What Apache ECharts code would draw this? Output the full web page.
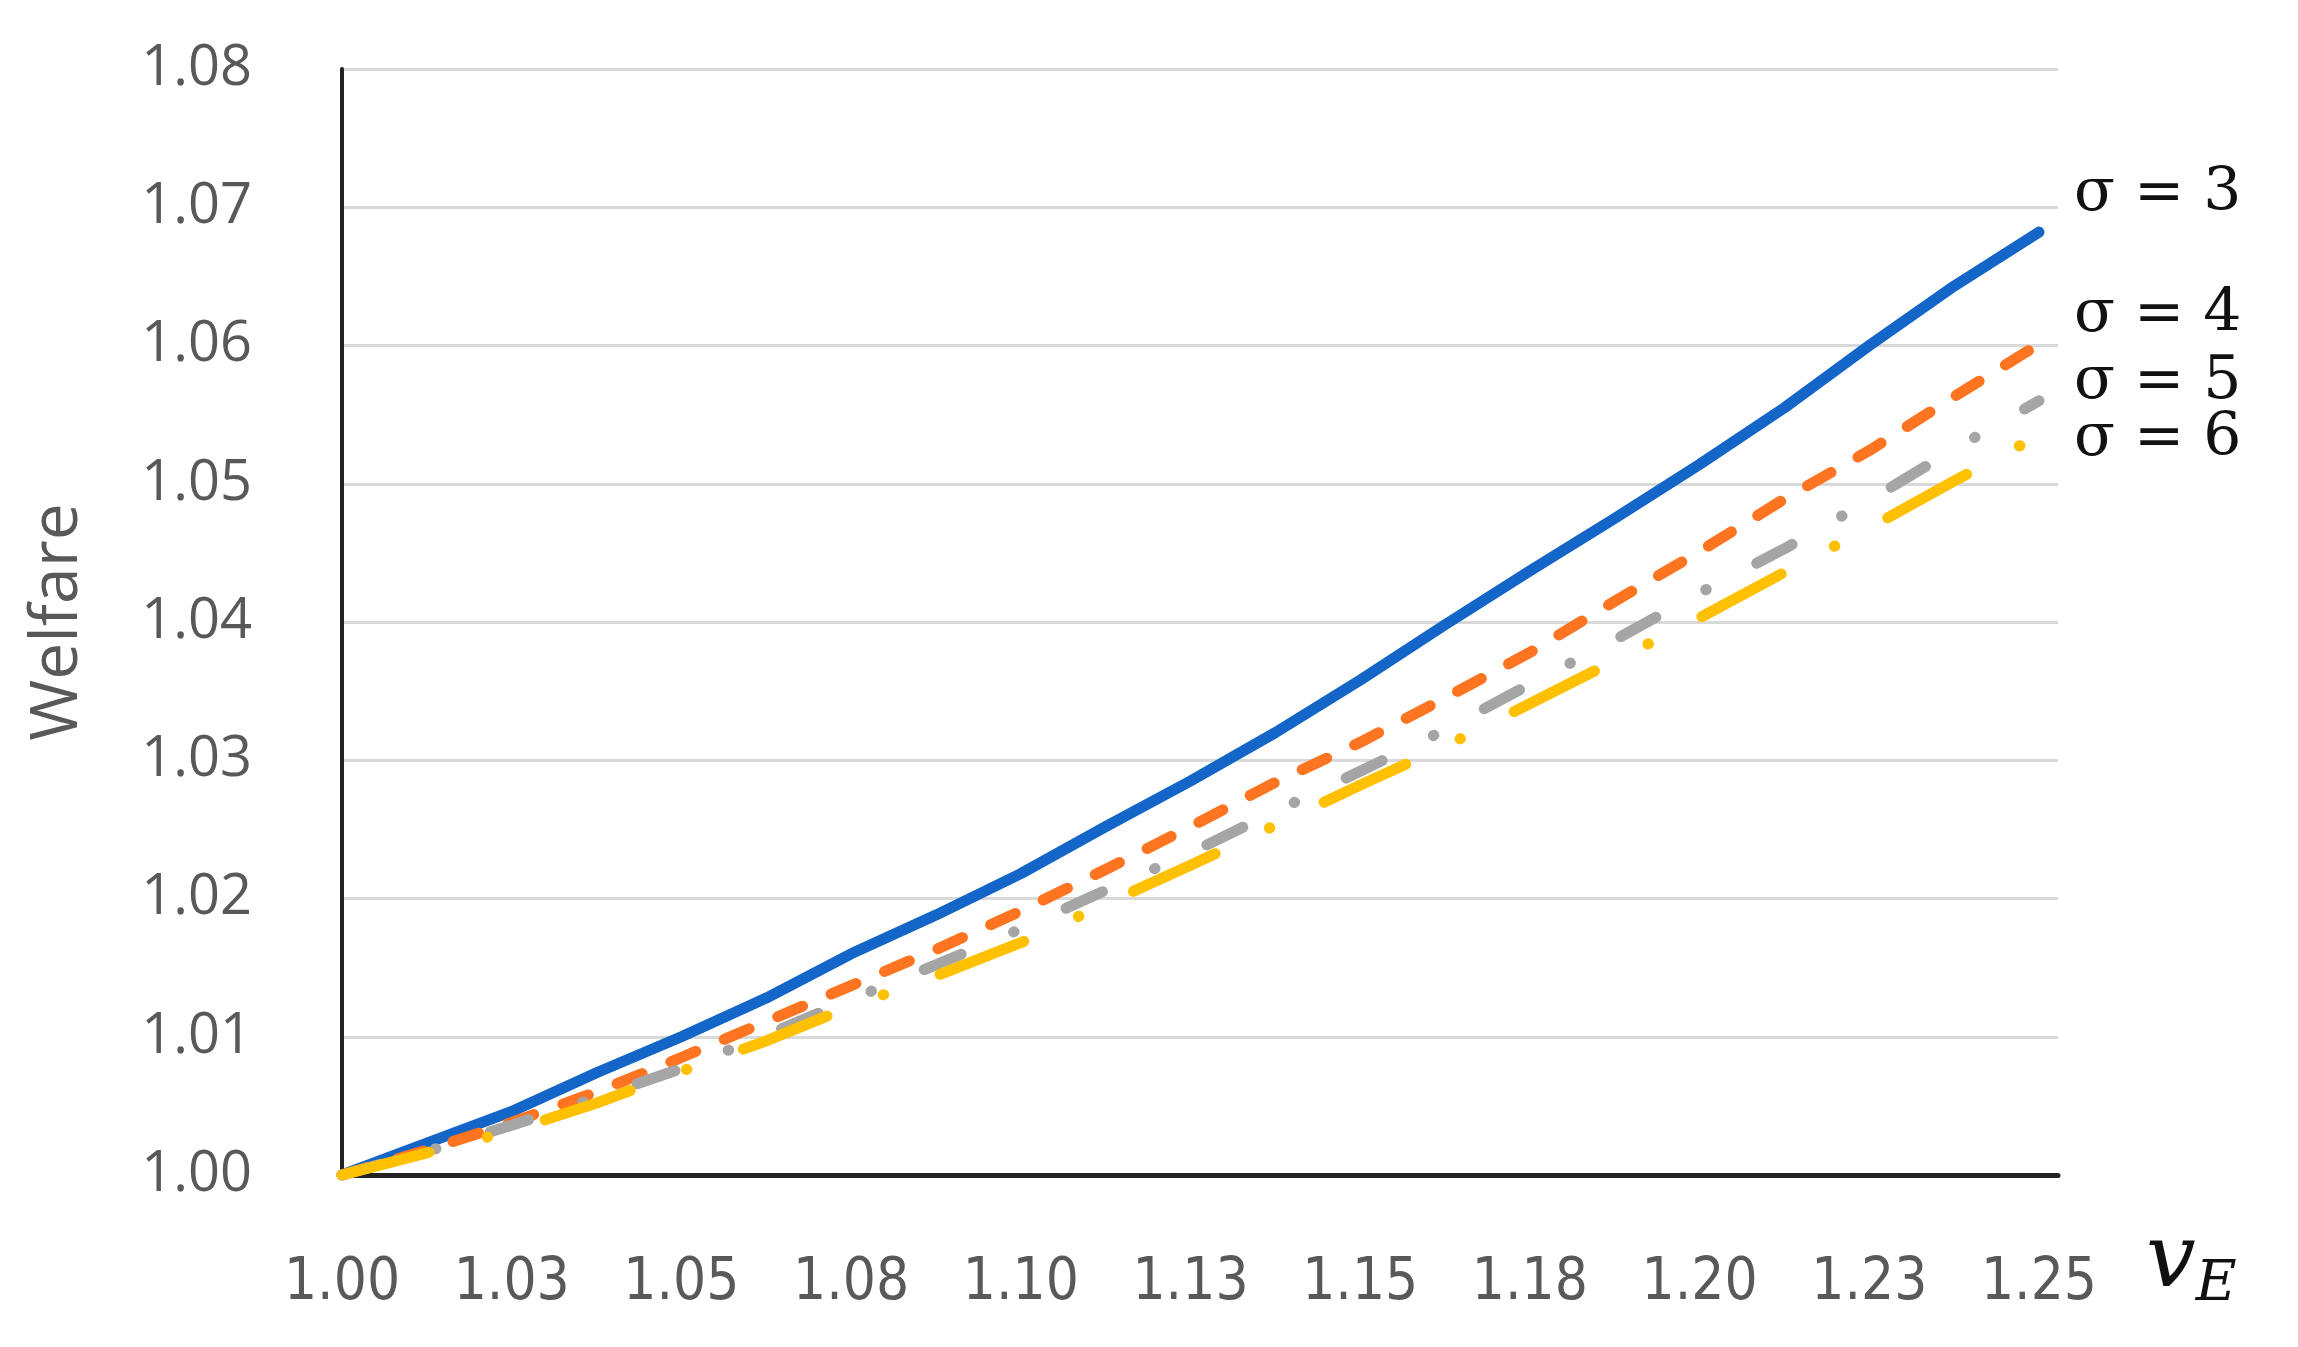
<!DOCTYPE html>
<html>
<head>
<meta charset="utf-8">
<script src="https://cdn.jsdelivr.net/npm/echarts@6/dist/echarts.min.js"></script>
<style>
  html, body { margin: 0; padding: 0; background: #fff; }
  #chart { width: 2298px; height: 1347px; }
</style>
</head>
<body>
<div id="chart"></div>
<script>
// v_E values (x) and welfare for each sigma
let vE = [1.0, 1.0125, 1.025, 1.0375, 1.05, 1.0625, 1.075, 1.0875, 1.10, 1.1125, 1.125,
          1.1375, 1.15, 1.1625, 1.175, 1.1875, 1.20, 1.2125, 1.225, 1.2375, 1.25];
let sigma3 = [1.0000, 1.0023, 1.0046, 1.0074, 1.0100, 1.0128, 1.0160, 1.0188, 1.0218, 1.0252, 1.0285,
              1.0320, 1.0358, 1.0398, 1.0437, 1.0475, 1.0514, 1.0555, 1.0600, 1.0643, 1.0682];
let sigma4 = [1.0000, 1.0018, 1.0038, 1.0060, 1.0085, 1.0111, 1.0137, 1.0163, 1.0191, 1.0221, 1.0252,
              1.0284, 1.0313, 1.0345, 1.0378, 1.0415, 1.0451, 1.0489, 1.0524, 1.0563, 1.0601];
let sigma5 = [1.0000, 1.0017, 1.0036, 1.0056, 1.0077, 1.0101, 1.0127, 1.0152, 1.0178, 1.0206, 1.0233,
              1.0263, 1.0292, 1.0322, 1.0355, 1.0387, 1.0421, 1.0453, 1.0488, 1.0525, 1.0560];
let sigma6 = [1.0000, 1.0016, 1.0032, 1.0052, 1.0075, 1.0097, 1.0122, 1.0144, 1.0168, 1.0196, 1.0224,
              1.0253, 1.0282, 1.0310, 1.0341, 1.0372, 1.0403, 1.0436, 1.0468, 1.0502, 1.0535];
let seriesNames = ['σ = 3', 'σ = 4', 'σ = 5', 'σ = 6'];
let xTickLabels = ['1.00', '1.03', '1.05', '1.08', '1.10', '1.13', '1.15', '1.18', '1.20', '1.23', '1.25'];

let myChart = echarts.init(document.getElementById('chart'));

function pairs(ys) {
    return vE.map(function (x, i) { return [x, ys[i]]; });
}

function mkSeries(name, ys, color, dash, labelDy) {
    return {
        name: name,
        type: 'line',
        data: pairs(ys),
        showSymbol: false,
        lineStyle: {
            color: color,
            width: 11,
            type: dash,
            cap: 'round',
            join: 'round'
        },
        endLabel: {
            show: true,
            formatter: name,
            offset: [27, labelDy],
            color: '#111',
            fontFamily: 'DejaVu Serif',
            fontSize: 60
        }
    };
}

let option = {
    animation: false,
    backgroundColor: '#fff',
    grid: {
        left: 342,
        right: 240,
        top: 69,
        bottom: 172
    },
    xAxis: {
        type: 'value',
        min: 1,
        max: 1.2528,
        interval: 0.025,
        name: '{v|v}{e|E}',
        nameLocation: 'end',
        nameGap: 88,
        nameTextStyle: {
            verticalAlign: 'top',
            padding: [38, 0, 0, 0],
            rich: {
                v: {fontFamily: 'DejaVu Serif', fontStyle: 'italic', fontSize: 88, color: '#111'},
                e: {fontFamily: 'DejaVu Serif', fontStyle: 'italic', fontSize: 56, color: '#111', padding: [44, 0, 0, 0]}
            }
        },
        axisLine: {lineStyle: {color: '#222', width: 5}},
        axisTick: {show: false},
        splitLine: {show: false},
        axisLabel: {
            showMaxLabel: false,
            margin: 80,
            color: '#595959',
            fontFamily: 'Liberation Sans Narrow, DejaVu Sans Condensed, sans-serif',
            fontSize: 58,
            formatter: function (v) {
                return xTickLabels[Math.round((v - 1) / 0.025)];
            }
        }
    },
    yAxis: {
        type: 'value',
        min: 1,
        max: 1.08,
        interval: 0.01,
        name: 'Welfare',
        nameLocation: 'middle',
        nameGap: 251,
        nameTextStyle: {
            color: '#595959',
            fontFamily: 'Open Sans',
            fontSize: 66
        },
        axisLine: {show: true, lineStyle: {color: '#222', width: 4}},
        axisTick: {show: false},
        splitLine: {lineStyle: {color: '#d9d9d9', width: 3}},
        axisLabel: {
            margin: 90,
            color: '#595959',
            fontFamily: 'Open Sans',
            fontSize: 56,
            formatter: function (v) { return v.toFixed(2); }
        }
    },
    series: [
        mkSeries(seriesNames[0], sigma3, '#1366c8', 'solid', -38),
        mkSeries(seriesNames[1], sigma4, '#ff7420', [27, 31], -29),
        mkSeries(seriesNames[2], sigma5, '#a5a5a5', [40, 57, 0.5, 57], -18),
        mkSeries(seriesNames[3], sigma6, '#ffc000', [90, 60, 0.5, 60], 4)
    ]
};
myChart.setOption(option);
</script>
</body>
</html>
